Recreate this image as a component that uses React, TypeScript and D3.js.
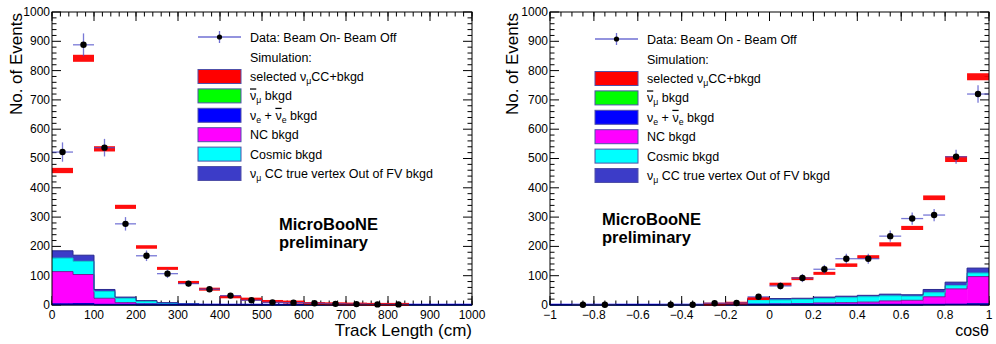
import React from 'react';
import * as d3 from 'd3';

const FONT = '"Liberation Sans", Arial, Helvetica, sans-serif';

// ---- left panel: track length, 50 cm bins ----
const LEN_EDGES = [0, 50, 100, 150, 200, 250, 300, 350, 400, 450, 500, 550, 600, 650, 700, 750, 800, 850, 900, 950, 1000];
const LEN_DATA = [522, 888, 537, 277, 168, 107, 73, 54, 32, 16, 9, 8, 6, 4, 3, 2, 2, null, null, null];
const LEN_DATA_ERR = [33, 39, 30, 23, 18, 15, 10, 8, 6, 5, 4, 4, 3, 3, 3, 2, 2, 0, 0, 0];
const LEN_MC = [459, 842, 533, 335, 198, 125, 77, 54, 28, 20, 12, 10, 5, 4, 3, 2, 2, 0, 0, 0];
const LEN_MC_ERR = [9, 12, 9, 7, 6, 5, 4, 3, 3, 3, 2, 2, 2, 2, 2, 2, 2, 2, 2, 2];
const LEN_NUMUBAR = [1, 1, 0, 0, 0, 0, 0, 0, 0, 0, 0, 0, 0, 0, 0, 0, 0, 0, 0, 0];
const LEN_NUE = [3, 4, 1, 1, 0, 0, 0, 0, 0, 0, 0, 0, 0, 0, 0, 0, 0, 0, 0, 0];
const LEN_NC = [110, 99, 22, 7, 4, 2, 1, 0, 0, 0, 0, 0, 0, 0, 0, 0, 0, 0, 0, 0];
const LEN_COSMIC = [46, 45, 23, 15, 8, 4, 2, 1, 0, 0, 0, 0, 0, 0, 0, 0, 0, 0, 0, 0];
const LEN_OOFV = [25, 21, 7, 4, 3, 2, 1, 1, 0, 0, 0, 0, 0, 0, 0, 0, 0, 0, 0, 0];
const LEN_OUTLINE = [0, 0, 0, 0, 0, 0, 0, 0, 28, 20, 0, 0, 0, 0, 0, 0, 0, 0, 0, 0];
const LEN_TICKS = [0, 100, 200, 300, 400, 500, 600, 700, 800, 900, 1000];

// ---- right panel: cos theta, 0.1 bins ----
const COS_EDGES = [-1, -0.9, -0.8, -0.7, -0.6, -0.5, -0.4, -0.3, -0.2, -0.1, 0, 0.1, 0.2, 0.3, 0.4, 0.5, 0.6, 0.7, 0.8, 0.9, 1];
const COS_DATA = [null, 1, 1, null, null, 1, 1, 6, 7, 28, 65, 92, 122, 158, 158, 235, 295, 307, 506, 720];
const COS_DATA_ERR = [0, 2, 2, 0, 0, 2, 2, 4, 4, 8, 12, 14, 15, 17, 17, 19, 21, 21, 24, 30];
const COS_MC = [0, 0, 0, 0, 0, 0, 0, 3, 6, 22, 71, 90, 108, 136, 164, 207, 263, 366, 498, 779];
const COS_MC_ERR = [2, 2, 2, 2, 2, 2, 2, 2, 2, 4, 5, 5, 5, 6, 6, 7, 7, 8, 10, 12];
const COS_NUMUBAR = [0, 0, 0, 0, 0, 0, 0, 0, 0, 0, 0, 0, 0, 0, 0, 0, 0, 1, 2, 3];
const COS_NUE = [0, 0, 0, 0, 0, 0, 0, 0, 0, 0, 0, 0, 0, 0, 0, 0, 0, 0, 0, 1];
const COS_NC = [0, 0, 0, 0, 0, 0, 0, 1, 1, 3, 4, 5, 7, 8, 10, 14, 16, 27, 53, 93];
const COS_COSMIC = [0, 0, 0, 0, 0, 0, 0, 1, 2, 15, 13, 14, 15, 17, 18, 17, 14, 14, 11, 12];
const COS_OOFV = [0, 0, 0, 0, 0, 0, 0, 1, 1, 4, 5, 4, 5, 5, 5, 6, 5, 11, 12, 17];
const COS_OUTLINE = [0, 0, 0, 0, 0, 0, 0, 0, 0, 0, 0, 0, 0, 0, 0, 0, 0, 0, 0, 0];
const COS_TICKS = [-1, -0.8, -0.6, -0.4, -0.2, 0, 0.2, 0.4, 0.6, 0.8, 1];

const Y_TICKS = [0, 100, 200, 300, 400, 500, 600, 700, 800, 900, 1000];

const STACK_KEYS = ['numubar', 'nue', 'nc', 'cosmic', 'oofv'];
const STACK_FILL: Record<string, string> = {
  numubar: '#00ff00', nue: '#0000ff', nc: '#ff00ff', cosmic: '#00ffff', oofv: '#3c3cc8',
};
const STACK_LINE: Record<string, string> = {
  numubar: '#00a000', nue: '#0000b0', nc: '#7a1a9a', cosmic: '#00d0d0', oofv: '#2a2a90',
};

type Part = [string, string?];
const LEGEND_ITEMS: { color: string; parts: Part[] }[] = [
  { color: '#ff0000', parts: [['selected ν'], ['μ', 'sub'], ['CC+bkgd']] },
  { color: '#00ff00', parts: [['ν', 'bar'], ['μ', 'sub'], [' bkgd']] },
  { color: '#0000ff', parts: [['ν'], ['e', 'sub'], [' + '], ['ν', 'bar'], ['e', 'sub'], [' bkgd']] },
  { color: '#ff00ff', parts: [['NC bkgd']] },
  { color: '#00ffff', parts: [['Cosmic bkgd']] },
  { color: '#3c3cc8', parts: [['ν'], ['μ', 'sub'], [' CC true vertex Out of FV bkgd']] },
];

function RichText({ parts, x, y, size }: { parts: Part[]; x: number; y: number; size: number }) {
  let shift = 0;
  return (
    <text x={x} y={y} fontSize={size} fontFamily={FONT} fill="#000">
      {parts.map(([t, kind], i) => {
        const target = kind === 'sub' ? 3 : 0;
        const dy = target - shift;
        shift = target;
        return (
          <tspan
            key={i}
            dy={dy}
            fontSize={kind === 'sub' ? size * 0.7 : size}
            style={kind === 'bar' ? { textDecoration: 'overline' } : undefined}
          >
            {t}
          </tspan>
        );
      })}
    </text>
  );
}

type PanelProps = {
  edges: number[];
  data: (number | null)[];
  dataErr: number[];
  mc: number[];
  mcErr: number[];
  layers: number[][];
  outline: number[];
  xTicks: number[];
  xMinorStep: number;
  fmt: (v: number) => string;
  left: number;
  right: number;
  yTitleX: number;
  xTitle: string;
  xTitleY: number;
  xTitleSize: number;
  dataLabel: string;
  legendX: number;
  legendY: number;
  tagX: number;
  tagY: number;
};

function Panel(p: PanelProps) {
  const top = 12;
  const bottom = 305;
  const x = d3.scaleLinear().domain([p.edges[0], p.edges[p.edges.length - 1]]).range([p.left, p.right]);
  const y = d3.scaleLinear().domain([0, 1000]).range([bottom, top]);
  const [x0, x1] = x.domain();

  const rows = p.mc.map((_, i) => {
    const r: Record<string, number> = {};
    STACK_KEYS.forEach((k, j) => (r[k] = p.layers[j][i]));
    return r;
  });
  const series = d3.stack<Record<string, number>>().keys(STACK_KEYS)(rows);
  const stepLine = d3
    .line<[number, number]>()
    .x((d) => x(d[0]))
    .y((d) => y(d[1]))
    .curve(d3.curveStepAfter);

  const xMinor = d3.range(0, Math.round((x1 - x0) / p.xMinorStep) + 1).map((i) => x0 + i * p.xMinorStep);
  const yMinor = d3.range(0, 51).map((i) => i * 20).filter((v) => v % 100 !== 0);
  const maj = 9;
  const min = 4.5;

  const lx = p.legendX;
  const ly = p.legendY;
  const step = 19.4;

  return (
    <g>
      {/* ticks on all four sides, drawn inward */}
      <g stroke="#000" strokeWidth={1}>
        {xMinor.map((v, i) => (
          <g key={'xm' + i}>
            <line x1={x(v)} x2={x(v)} y1={bottom} y2={bottom - min} />
            <line x1={x(v)} x2={x(v)} y1={top} y2={top + min} />
          </g>
        ))}
        {p.xTicks.map((v, i) => (
          <g key={'xM' + i}>
            <line x1={x(v)} x2={x(v)} y1={bottom} y2={bottom - maj} />
            <line x1={x(v)} x2={x(v)} y1={top} y2={top + maj} />
          </g>
        ))}
        {yMinor.map((v, i) => (
          <g key={'ym' + i}>
            <line x1={p.left} x2={p.left + min} y1={y(v)} y2={y(v)} />
            <line x1={p.right} x2={p.right - min} y1={y(v)} y2={y(v)} />
          </g>
        ))}
        {Y_TICKS.map((v, i) => (
          <g key={'yM' + i}>
            <line x1={p.left} x2={p.left + maj} y1={y(v)} y2={y(v)} />
            <line x1={p.right} x2={p.right - maj} y1={y(v)} y2={y(v)} />
          </g>
        ))}
      </g>

      {/* stacked backgrounds */}
      {series.map((s) => (
        <g key={s.key}>
          {s.map((d, i) =>
            d[1] > d[0] ? (
              <rect
                key={i}
                x={x(p.edges[i])}
                width={x(p.edges[i + 1]) - x(p.edges[i])}
                y={y(d[1])}
                height={y(d[0]) - y(d[1])}
                fill={STACK_FILL[s.key]}
              />
            ) : null
          )}
        </g>
      ))}
      {series.map((s) => {
        const pts: [number, number][] = s.map((d, i) => [p.edges[i], d[1]] as [number, number]);
        pts.push([p.edges[p.edges.length - 1], s[s.length - 1][1]]);
        return (
          <path key={'l' + s.key} d={stepLine(pts) || ''} fill="none" stroke={STACK_LINE[s.key]} strokeWidth={1} />
        );
      })}
      {p.outline.map((v, i) =>
        v > 0 ? (
          <rect
            key={'o' + i}
            x={x(p.edges[i])}
            width={x(p.edges[i + 1]) - x(p.edges[i])}
            y={y(v)}
            height={bottom - y(v)}
            fill="none"
            stroke="#3a2050"
            strokeWidth={1}
          />
        ) : null
      )}
      <line x1={p.left} x2={p.right} y1={bottom - 0.5} y2={bottom - 0.5} stroke="#0000ff" strokeWidth={1.5} />

      {/* MC total with error band */}
      {p.mc.map((v, i) => {
        if (v <= 0) return null;
        const hgt = Math.max(3, y(v - p.mcErr[i]) - y(v + p.mcErr[i]));
        return (
          <rect
            key={'mc' + i}
            x={x(p.edges[i])}
            width={x(p.edges[i + 1]) - x(p.edges[i])}
            y={y(v) - hgt / 2}
            height={hgt}
            fill="#ff0000"
            opacity={0.95}
          />
        );
      })}

      {/* data */}
      {p.data.map((v, i) => {
        if (v === null) return null;
        const cx = x((p.edges[i] + p.edges[i + 1]) / 2);
        return (
          <g key={'d' + i}>
            <line x1={x(p.edges[i])} x2={x(p.edges[i + 1])} y1={y(v)} y2={y(v)} stroke="#4b4bc8" strokeOpacity={0.75} strokeWidth={1.3} />
            <line x1={cx} x2={cx} y1={y(v + p.dataErr[i])} y2={y(v - p.dataErr[i])} stroke="#4b4bc8" strokeOpacity={0.75} strokeWidth={1.3} />
            <circle cx={cx} cy={y(v)} r={3.2} fill="#000" />
          </g>
        );
      })}

      {/* frame */}
      <rect x={p.left} y={top} width={p.right - p.left} height={bottom - top} fill="none" stroke="#000" strokeWidth={1} />

      {/* tick labels */}
      {p.xTicks.map((v, i) => (
        <text key={'xl' + i} x={x(v)} y={319} textAnchor="middle" fontSize={12} fontFamily={FONT} fill="#000">
          {p.fmt(v)}
        </text>
      ))}
      {Y_TICKS.map((v, i) => (
        <text key={'yl' + i} x={p.left - 2} y={y(v)} dy="0.33em" textAnchor="end" fontSize={12} fontFamily={FONT} fill="#000">
          {v}
        </text>
      ))}

      {/* axis titles */}
      <text transform={`translate(${p.yTitleX},${top + 1}) rotate(-90)`} textAnchor="end" fontSize={17} fontFamily={FONT} fill="#000">
        No. of Events
      </text>
      <text x={p.right} y={p.xTitleY} textAnchor="end" fontSize={p.xTitleSize} fontFamily={FONT} fill="#000">
        {p.xTitle}
      </text>

      {/* legend */}
      <line x1={lx} x2={lx + 43} y1={ly} y2={ly} stroke="#4b4bc8" strokeOpacity={0.8} strokeWidth={1.3} />
      <line x1={lx + 21.5} x2={lx + 21.5} y1={ly - 6} y2={ly + 6} stroke="#4b4bc8" strokeOpacity={0.8} strokeWidth={1.3} />
      <circle cx={lx + 21.5} cy={ly} r={2.6} fill="#000" />
      <text x={lx + 52} y={ly} dy="0.36em" fontSize={12.5} fontFamily={FONT} fill="#000">
        {p.dataLabel}
      </text>
      <text x={lx + 52} y={ly + 20.5} dy="0.36em" fontSize={12.5} fontFamily={FONT} fill="#000">
        Simulation:
      </text>
      {LEGEND_ITEMS.map((it, i) => {
        const cy = ly + 39.5 + i * step;
        return (
          <g key={'lg' + i}>
            <rect x={lx} y={cy - 7} width={43} height={14} fill={it.color} stroke="#5050a8" strokeWidth={1} />
            <RichText parts={it.parts} x={lx + 52} y={cy + 4.5} size={12.5} />
          </g>
        );
      })}

      {/* experiment tag */}
      <text x={p.tagX} y={p.tagY} fontSize={16.5} fontWeight="bold" fontFamily={FONT} fill="#000">
        MicroBooNE
      </text>
      <text x={p.tagX} y={p.tagY + 17.5} fontSize={16.5} fontWeight="bold" fontFamily={FONT} fill="#000">
        preliminary
      </text>
    </g>
  );
}

export default function App() {
  const cosFmt = (v: number) => (v < 0 ? '\u2212' + Math.abs(v) : String(v));
  return (
    <svg
      width={996}
      height={344}
      style={{ position: 'absolute', left: 0, top: 0, background: '#fff', display: 'block' }}
    >
      <rect width={996} height={344} fill="#fff" />
      <Panel
        edges={LEN_EDGES}
        data={LEN_DATA}
        dataErr={LEN_DATA_ERR}
        mc={LEN_MC}
        mcErr={LEN_MC_ERR}
        layers={[LEN_NUMUBAR, LEN_NUE, LEN_NC, LEN_COSMIC, LEN_OOFV]}
        outline={LEN_OUTLINE}
        xTicks={LEN_TICKS}
        xMinorStep={20}
        fmt={(v) => String(v)}
        left={52}
        right={472}
        yTitleX={22}
        xTitle="Track Length (cm)"
        xTitleY={336}
        xTitleSize={17}
        dataLabel="Data: Beam On- Beam Off"
        legendX={198}
        legendY={37}
        tagX={279}
        tagY={230}
      />
      <Panel
        edges={COS_EDGES}
        data={COS_DATA}
        dataErr={COS_DATA_ERR}
        mc={COS_MC}
        mcErr={COS_MC_ERR}
        layers={[COS_NUMUBAR, COS_NUE, COS_NC, COS_COSMIC, COS_OOFV]}
        outline={COS_OUTLINE}
        xTicks={COS_TICKS}
        xMinorStep={0.05}
        fmt={cosFmt}
        left={550}
        right={989}
        yTitleX={518}
        xTitle="cosθ"
        xTitleY={336}
        xTitleSize={16}
        dataLabel="Data: Beam On - Beam Off"
        legendX={595}
        legendY={39}
        tagX={602}
        tagY={225}
      />
    </svg>
  );
}
